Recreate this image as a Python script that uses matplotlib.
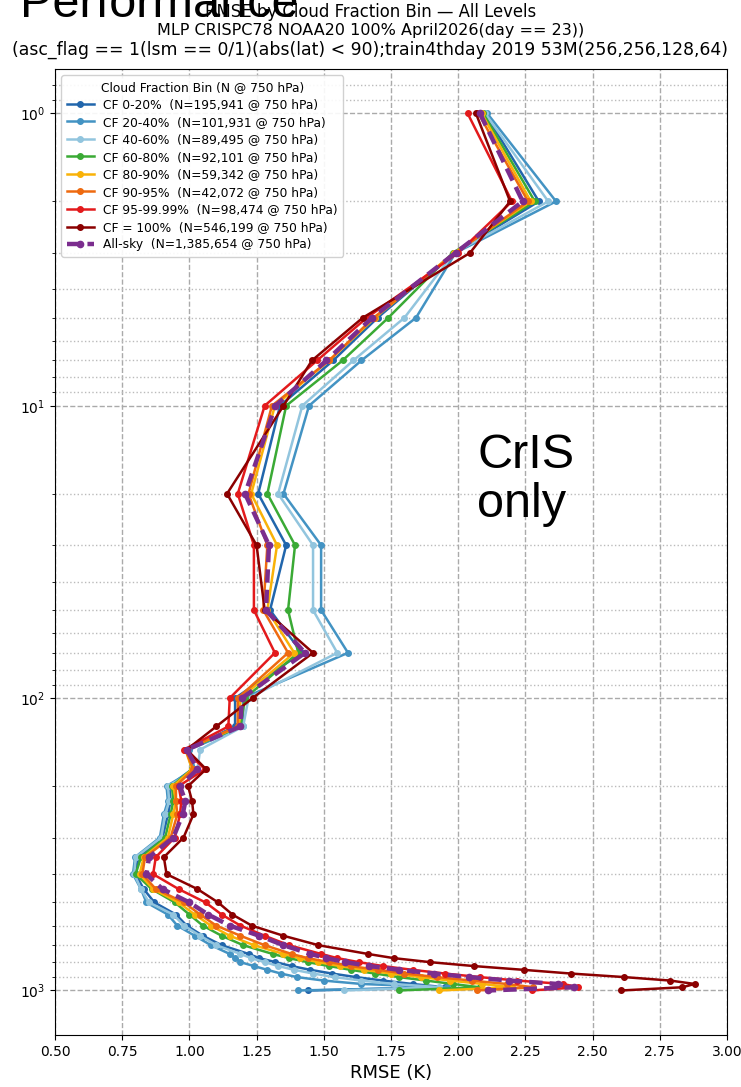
import matplotlib
matplotlib.use("Agg")
import matplotlib.pyplot as plt
from matplotlib.ticker import LogLocator, LogFormatterMathtext

levels = [1, 2, 3, 5, 7, 10, 20, 30, 50, 70, 100, 125, 150, 175, 200, 225, 250,
          300, 350, 400, 450, 500, 550, 600, 650, 700, 750, 775, 800, 825, 850,
          875, 900, 925, 950, 975, 1000]

cf_0_20 = [2.100, 2.300, 1.985, 1.700, 1.535, 1.337, 1.256, 1.360, 1.300, 1.418, 1.170,
           1.170, 0.990, 1.010, 0.925, 0.930, 0.920, 0.900, 0.810, 0.800, 0.830, 0.870,
           0.950, 0.990, 1.050, 1.120, 1.220, 1.260, 1.320, 1.380, 1.450, 1.530, 1.620,
           1.720, 1.830, 1.950, 1.443]
cf_20_40 = [2.108, 2.364, 1.990, 1.843, 1.640, 1.445, 1.350, 1.490, 1.490, 1.590, 1.200,
            1.200, 1.000, 1.020, 0.915, 0.920, 0.905, 0.890, 0.798, 0.790, 0.820, 0.840,
            0.920, 0.955, 1.020, 1.080, 1.150, 1.170, 1.190, 1.240, 1.290, 1.340, 1.400,
            1.500, 1.640, 1.960, 1.405]
cf_40_60 = [2.100, 2.335, 1.985, 1.800, 1.610, 1.420, 1.330, 1.460, 1.460, 1.550, 1.220,
            1.200, 1.040, 1.030, 0.920, 0.925, 0.910, 0.895, 0.800, 0.795, 0.820, 0.850,
            0.940, 0.980, 1.040, 1.100, 1.190, 1.230, 1.280, 1.330, 1.390, 1.460, 1.540,
            1.640, 1.760, 1.930, 1.574]
cf_60_80 = [2.093, 2.285, 1.980, 1.740, 1.570, 1.360, 1.290, 1.393, 1.367, 1.405, 1.207,
            1.190, 0.990, 1.010, 0.935, 0.940, 0.930, 0.910, 0.820, 0.800, 0.860, 0.946,
            1.000, 1.050, 1.120, 1.200, 1.310, 1.370, 1.440, 1.520, 1.600, 1.690, 1.780,
            1.880, 1.980, 2.080, 1.778]
cf_80_90 = [2.087, 2.270, 1.985, 1.690, 1.520, 1.318, 1.230, 1.326, 1.290, 1.390, 1.190,
            1.185, 0.985, 1.010, 0.940, 0.950, 0.940, 0.920, 0.830, 0.815, 0.865, 0.960,
            1.020, 1.080, 1.150, 1.240, 1.350, 1.410, 1.480, 1.560, 1.650, 1.750, 1.860,
            1.970, 2.090, 2.200, 1.930]
cf_90_95 = [2.075, 2.260, 1.990, 1.685, 1.520, 1.307, 1.220, 1.290, 1.275, 1.367, 1.180,
            1.180, 0.985, 1.015, 0.950, 0.950, 0.955, 0.930, 0.835, 0.825, 0.875, 0.980,
            1.040, 1.100, 1.190, 1.280, 1.380, 1.440, 1.520, 1.600, 1.700, 1.800, 1.920,
            2.050, 2.180, 2.280, 2.069]
cf_95_9999 = [2.035, 2.200, 2.000, 1.660, 1.475, 1.280, 1.180, 1.240, 1.240, 1.318, 1.150,
              1.145, 0.980, 1.058, 0.960, 0.970, 0.965, 0.945, 0.875, 0.865, 0.960, 1.060,
              1.120, 1.190, 1.280, 1.370, 1.490, 1.550, 1.630, 1.720, 1.830, 1.950, 2.080,
              2.220, 2.390, 2.447, 2.273]
cf_100 = [2.066, 2.193, 2.044, 1.645, 1.456, 1.350, 1.140, 1.250, 1.280, 1.460, 1.235,
          1.100, 0.990, 1.062, 0.995, 1.010, 1.015, 0.978, 0.905, 0.915, 1.030, 1.107,
          1.160, 1.232, 1.350, 1.480, 1.664, 1.760, 1.895, 2.058, 2.243, 2.418, 2.618,
          2.789, 2.880, 2.834, 2.607]
all_sky = [2.081, 2.240, 1.990, 1.680, 1.510, 1.320, 1.207, 1.296, 1.285, 1.430, 1.195,
           1.190, 0.990, 1.030, 0.965, 0.985, 0.975, 0.940, 0.850, 0.840, 0.900, 1.000,
           1.070, 1.150, 1.260, 1.350, 1.450, 1.510, 1.580, 1.670, 1.780, 1.910, 2.040,
           2.190, 2.370, 2.430, 2.110]

labels = ["CF 0-20%  (N=195,941 @ 750 hPa)",
          "CF 20-40%  (N=101,931 @ 750 hPa)",
          "CF 40-60%  (N=89,495 @ 750 hPa)",
          "CF 60-80%  (N=92,101 @ 750 hPa)",
          "CF 80-90%  (N=59,342 @ 750 hPa)",
          "CF 90-95%  (N=42,072 @ 750 hPa)",
          "CF 95-99.99%  (N=98,474 @ 750 hPa)",
          "CF = 100%  (N=546,199 @ 750 hPa)",
          "All-sky  (N=1,385,654 @ 750 hPa)"]
colors = ["#2166ac", "#4393c3", "#92c5de", "#3aaa35", "#f9b208",
          "#ee6a10", "#e31a1c", "#8b0000", "#7b2d8e"]
series = [cf_0_20, cf_20_40, cf_40_60, cf_60_80, cf_80_90, cf_90_95,
          cf_95_9999, cf_100, all_sky]

W, H = 741, 1087
fig = plt.figure(figsize=(W / 100, H / 100), dpi=100)
ax = fig.add_axes([55 / W, 1 - 1035 / H, (727 - 55) / W, (1035 - 69) / H])

for vals, lab, col in zip(series, labels, colors):
    if lab.startswith("All-sky"):
        ax.plot(vals, levels, color=col, lw=3.2, ls=(0, (3, 1.6)), marker="o",
                ms=4.5, label=lab, zorder=4)
    else:
        ax.plot(vals, levels, color=col, lw=1.8, marker="o", ms=4,
                label=lab, zorder=3)

ax.set_yscale("log")
ax.set_ylim(1420, 0.705)
ax.set_xlim(0.5, 3.0)
ax.set_xticks([0.5, 0.75, 1.0, 1.25, 1.5, 1.75, 2.0, 2.25, 2.5, 2.75, 3.0])
ax.set_xticklabels(["0.50", "0.75", "1.00", "1.25", "1.50", "1.75", "2.00",
                    "2.25", "2.50", "2.75", "3.00"])
ax.yaxis.set_major_locator(LogLocator(base=10))
ax.yaxis.set_major_formatter(LogFormatterMathtext())
ax.yaxis.set_minor_locator(LogLocator(base=10, subs=range(2, 10)))
ax.tick_params(labelsize=10)
ax.grid(True, which="major", ls="--", color="#aaaaaa", lw=1.0)
ax.grid(True, which="minor", axis="y", ls=":", color="#bbbbbb", lw=1.0)
ax.set_axisbelow(True)
ax.set_xlabel("RMSE (K)", fontsize=13)
ax.set_ylabel("Pressure Level (hPa)", fontsize=12.5)
ax.yaxis.set_label_coords(-0.105, 0.5)

leg = ax.legend(loc="upper left", fontsize=8.8, title="Cloud Fraction Bin (N @ 750 hPa)",
                title_fontsize=8.8, labelspacing=0.37, handlelength=2.2,
                framealpha=0.9, borderpad=0.45)

fig.text(0.5, 1 - 12 / H, "RMSE by Cloud Fraction Bin \u2014 All Levels",
         ha="center", va="center", fontsize=11.9)
fig.text(0.5, 1 - 31 / H, "MLP CRISPC78 NOAA20 100% April2026(day == 23))",
         ha="center", va="center", fontsize=11.5)
fig.text(0.5, 1 - 50 / H,
         "(asc_flag == 1(lsm == 0/1)(abs(lat) < 90);train4thday 2019 53M(256,256,128,64)",
         ha="center", va="center", fontsize=12.4)

fig.text(20 / W, 1 - 17 / H, "Performance", ha="left", va="baseline",
         fontsize=35, family="Liberation Sans", color="black")
fig.text(477 / W, 1 - 468 / H, "CrIS", ha="left", va="baseline",
         fontsize=35, family="Liberation Sans", color="black")
fig.text(477 / W, 1 - 517 / H, "only", ha="left", va="baseline",
         fontsize=35, family="Liberation Sans", color="black")

fig.savefig("out.png", dpi=100)
